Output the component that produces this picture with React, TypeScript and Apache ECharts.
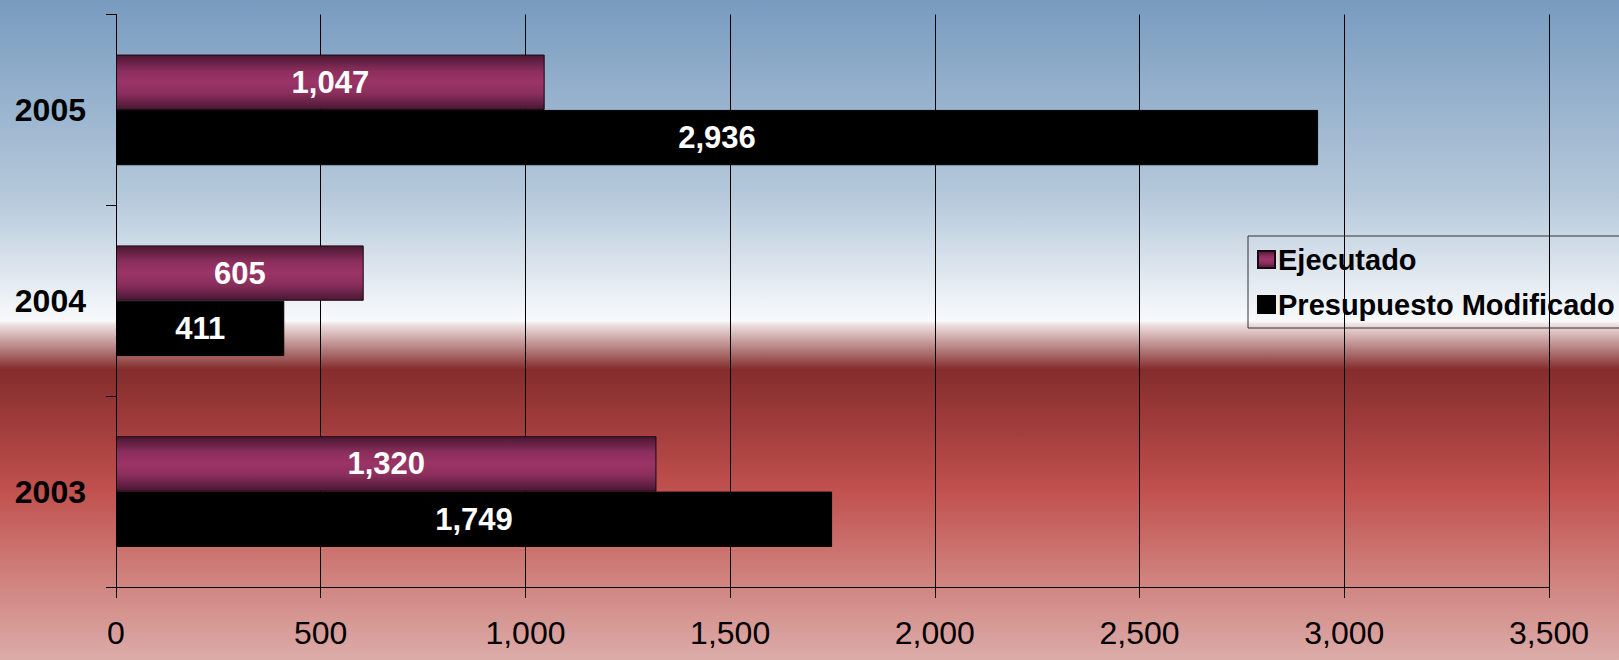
import React, { useEffect, useRef } from "react";
import * as echarts from "echarts";

const years = ["2003", "2004", "2005"];
const ejecutado = [1320, 605, 1047];
const presupuesto = [1749, 411, 2936];
const seriesNames = ["Ejecutado", "Presupuesto Modificado"];
const xTicks = { min: 0, max: 3500, interval: 500 };

const FONT = "'Liberation Sans', Arial, sans-serif";

export default function App() {
  const ref = useRef<HTMLDivElement>(null);
  useEffect(() => {
    if (!ref.current) return;
    const chart = echarts.init(ref.current, null, { renderer: "svg" });
    const ejecGrad = new echarts.graphic.LinearGradient(0, 0, 0, 1, [
      { offset: 0, color: "#4a1733" },
      { offset: 0.3, color: "#8c2f5d" },
      { offset: 0.5, color: "#9b3467" },
      { offset: 0.7, color: "#8c2f5d" },
      { offset: 1, color: "#4a1733" },
    ]);
    const label = {
      show: true,
      position: "inside",
      color: "#fff",
      fontFamily: FONT,
      fontSize: 31,
      fontWeight: "bold",
      formatter: (p: any) => Number(p.value).toLocaleString("en-US"),
    };
    chart.setOption({
      animation: false,
      backgroundColor: new echarts.graphic.LinearGradient(0, 0, 0, 1, [
        { offset: 0, color: "#789bbf" },
        { offset: 0.3, color: "#b6c9db" },
        { offset: 0.486, color: "#f8fafc" },
        { offset: 0.492, color: "#eedfdf" },
        { offset: 0.52, color: "#c29595" },
        { offset: 0.56, color: "#842c2c" },
        { offset: 0.74, color: "#c0504d" },
        { offset: 0.87, color: "#cf7f7b" },
        { offset: 1, color: "#dcaca9" },
      ]),
      grid: { left: 116, right: 70, top: 14.5, bottom: 73, containLabel: false },
      legend: {
        orient: "vertical",
        left: 1248,
        top: 236,
        data: seriesNames,
        itemWidth: 17,
        itemHeight: 17,
        itemGap: 16,
        padding: [9, 20, 9, 9],
        borderColor: "#333",
        borderWidth: 1,
        icon: "rect",
        textStyle: { fontFamily: FONT, fontSize: 29, fontWeight: "bold", color: "#000", padding: [0, 0, 0, -2] },
      },
      xAxis: {
        type: "value",
        min: xTicks.min,
        max: xTicks.max,
        interval: xTicks.interval,
        axisLine: { show: true, lineStyle: { color: "#000", width: 1 } },
        axisTick: { show: true, length: 11, lineStyle: { color: "#000" } },
        splitLine: { show: true, lineStyle: { color: "#000", width: 1 } },
        axisLabel: {
          margin: 30,
          fontFamily: FONT,
          fontSize: 32,
          color: "#000",
          formatter: (v: number) => v.toLocaleString("en-US"),
        },
      },
      yAxis: {
        type: "category",
        data: years,
        axisLine: { show: true, lineStyle: { color: "#000", width: 1 } },
        axisTick: { show: true, length: 10, lineStyle: { color: "#000" } },
        axisLabel: { margin: 30, fontFamily: FONT, fontSize: 32, fontWeight: "bold", color: "#000" },
      },
      series: [
        {
          name: seriesNames[0],
          type: "bar",
          data: ejecutado,
          barGap: "0%",
          barCategoryGap: "42%",
          itemStyle: { color: ejecGrad, borderColor: "#1a0810", borderWidth: 1 },
          label,
        },
        {
          name: seriesNames[1],
          type: "bar",
          data: presupuesto,
          barGap: "0%",
          barCategoryGap: "42%",
          itemStyle: { color: "#000", borderColor: "#000", borderWidth: 1 },
          label,
        },
      ],
    });
    return () => chart.dispose();
  }, []);
  return (
    <div
      ref={ref}
      style={{ position: "fixed", left: 0, top: 0, width: 1619, height: 660 }}
    />
  );
}
